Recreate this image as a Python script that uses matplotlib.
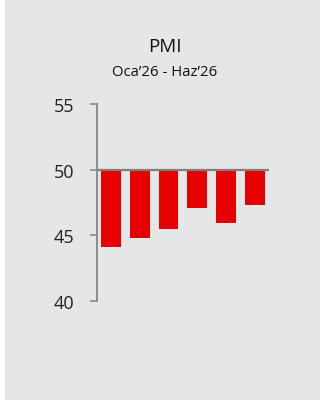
import matplotlib
matplotlib.use("Agg")
import matplotlib.pyplot as plt
from matplotlib.patches import Rectangle

plt.rcParams['font.family'] = ['Open Sans', 'DejaVu Sans']

months = ["Oca", "Şub", "Mar", "Nis", "May", "Haz"]
pmi_values = [44.1, 44.8, 45.5, 47.1, 45.9, 47.3]
threshold = 50
y_ticks = [40, 45, 50, 55]
title = "PMI"
subtitle = "Oca\u201926 - Haz\u201926"

W, H = 321, 406
fig = plt.figure(figsize=(W / 100, H / 100), dpi=100)
fig.patch.set_facecolor("white")

# grey card behind the chart
fig.patches.append(Rectangle((5 / W, 5 / H), 315 / W, 401 / H,
                             transform=fig.transFigure, facecolor="#e5e6e8",
                             edgecolor="none", zorder=-10))

ax = fig.add_axes([96.7 / W, 1 - 301.7 / H, (269 - 96.7) / W, (301.7 - 105.3) / H])
ax.set_facecolor("none")
ax.set_zorder(5)

x = list(range(len(months)))
ax.bar(x, [v - threshold for v in pmi_values], bottom=threshold, width=0.69,
       color="#e60000", zorder=2)
ax.axhline(threshold, color="#7f7f7f", lw=1.6, zorder=3)

ax.set_xlim(-0.5, len(months) - 0.5)
ax.set_ylim(min(y_ticks), max(y_ticks))
ax.set_yticks(y_ticks)
ax.set_xticks([])

for side in ("top", "right", "bottom"):
    ax.spines[side].set_visible(False)
ax.spines["left"].set_color("#8c8c8c")
ax.spines["left"].set_linewidth(1.4)
ax.tick_params(axis="y", length=5, width=1.2, color="#8c8c8c", pad=11,
               labelsize=13, labelcolor="#222222")

fig.text(165 / W, 1 - 52 / H, title, ha="center", va="baseline",
         fontsize=13.5, color="#111111")
fig.text(165 / W, 1 - 76 / H, subtitle, ha="center", va="baseline",
         fontsize=10.7, color="#111111")

fig.savefig("out.png", dpi=100, facecolor=fig.get_facecolor())
